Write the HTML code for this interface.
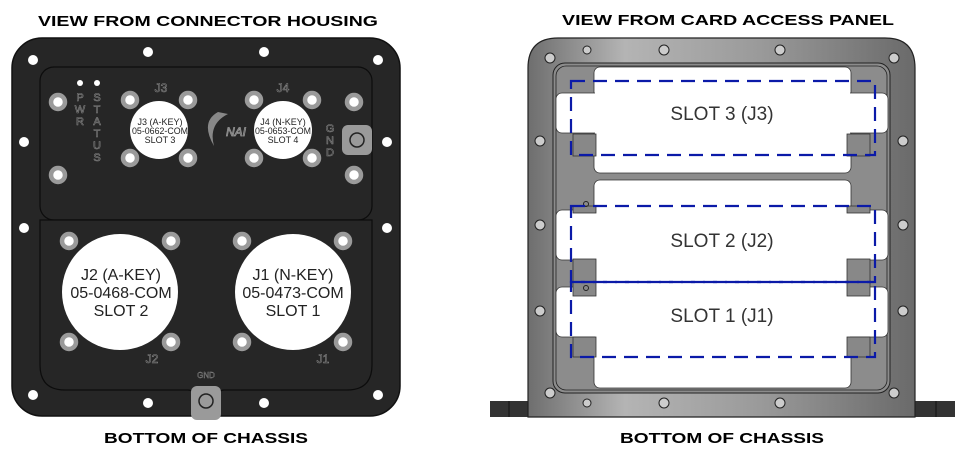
<!DOCTYPE html>
<html><head><meta charset="utf-8"><style>
html,body{margin:0;padding:0;background:#fff;}
svg{display:block;font-family:"Liberation Sans",Arial,sans-serif;}
</style></head><body>
<svg width="967" height="455" viewBox="0 0 967 455" xmlns="http://www.w3.org/2000/svg">
<defs>
<linearGradient id="g" x1="0" x2="1" y1="0" y2="0">
<stop offset="0" stop-color="#6e6e6e"/><stop offset="0.25" stop-color="#b4b4b4"/><stop offset="0.6" stop-color="#9a9a9a"/><stop offset="1" stop-color="#6a6a6a"/>
</linearGradient>
</defs>
<text x="38" y="26" font-size="15" font-weight="bold" textLength="340" lengthAdjust="spacingAndGlyphs">VIEW FROM CONNECTOR HOUSING</text>
<text x="562" y="25" font-size="15" font-weight="bold" textLength="332" lengthAdjust="spacingAndGlyphs">VIEW FROM CARD ACCESS PANEL</text>
<text x="104" y="443" font-size="15" font-weight="bold" textLength="204" lengthAdjust="spacingAndGlyphs">BOTTOM OF CHASSIS</text>
<text x="620" y="443" font-size="15" font-weight="bold" textLength="204" lengthAdjust="spacingAndGlyphs">BOTTOM OF CHASSIS</text>

<rect x="12" y="38" width="388" height="378" rx="30" fill="#262626" stroke="#111" stroke-width="1.5"/>
<rect x="40" y="67" width="332" height="153" rx="14" fill="#262626" stroke="#0c0c0c" stroke-width="1.2"/>
<path d="M40 220 H372 V365 Q372 390 347 390 H224 Q220 390 218 394 H194 Q192 390 188 390 H65 Q40 390 40 365 Z" fill="#262626" stroke="#0c0c0c" stroke-width="1.2"/>
<g fill="#fff">
<circle cx="33" cy="60" r="5"/><circle cx="148" cy="52" r="5"/><circle cx="264" cy="52" r="5"/><circle cx="378" cy="60" r="5"/>
<circle cx="24" cy="142" r="5"/><circle cx="387" cy="142" r="5"/><circle cx="24" cy="228" r="5"/><circle cx="387" cy="228" r="5"/>
<circle cx="33" cy="395" r="5"/><circle cx="148" cy="403" r="5"/><circle cx="264" cy="403" r="5"/><circle cx="378" cy="395" r="5"/>
<circle cx="80" cy="83" r="3"/><circle cx="97" cy="83" r="3"/>
</g>
<g fill="#fff" stroke="#9a9a9a" stroke-width="4.5">
<circle cx="58" cy="102" r="7"/><circle cx="130" cy="100" r="7"/><circle cx="188" cy="100" r="7"/><circle cx="254" cy="100" r="7"/><circle cx="312" cy="100" r="7"/><circle cx="354" cy="102" r="7"/>
<circle cx="130" cy="158" r="7"/><circle cx="188" cy="158" r="7"/><circle cx="254" cy="158" r="7"/><circle cx="312" cy="158" r="7"/>
<circle cx="58" cy="175" r="7"/><circle cx="354" cy="175" r="7"/>
<circle cx="69" cy="241" r="7"/><circle cx="171" cy="241" r="7"/><circle cx="242" cy="241" r="7"/><circle cx="343" cy="241" r="7"/>
<circle cx="69" cy="342" r="7"/><circle cx="171" cy="342" r="7"/><circle cx="242" cy="342" r="7"/><circle cx="343" cy="342" r="7"/>
</g>
<circle cx="159" cy="130" r="29" fill="#fff"/>
<circle cx="283" cy="130" r="29" fill="#fff"/>
<circle cx="120" cy="292" r="58" fill="#fff"/>
<circle cx="293" cy="292" r="58" fill="#fff"/>
<g font-size="9" text-anchor="middle" fill="#222">
<text x="160" y="125">J3 (A-KEY)</text><text x="160" y="134" textLength="56" lengthAdjust="spacingAndGlyphs">05-0662-COM</text><text x="160" y="143">SLOT 3</text>
<text x="283" y="125">J4 (N-KEY)</text><text x="283" y="134" textLength="56" lengthAdjust="spacingAndGlyphs">05-0653-COM</text><text x="283" y="143">SLOT 4</text>
</g>
<g font-size="16" text-anchor="middle" fill="#222">
<text x="121" y="280">J2 (A-KEY)</text><text x="121" y="298">05-0468-COM</text><text x="121" y="316">SLOT 2</text>
<text x="293" y="280">J1 (N-KEY)</text><text x="293" y="298">05-0473-COM</text><text x="293" y="316">SLOT 1</text>
</g>
<g font-size="12" text-anchor="middle" fill="#0d0d0d" stroke="#888" stroke-width="0.6">
<text x="161" y="92">J3</text><text x="283" y="92">J4</text>
<text x="152" y="363">J2</text><text x="323" y="363">J1</text>
</g>
<g font-size="11" text-anchor="middle" fill="#0d0d0d" stroke="#888" stroke-width="0.6">
<text x="80" y="101">P</text><text x="80" y="113">W</text><text x="80" y="125">R</text>
<text x="97" y="101">S</text><text x="97" y="113">T</text><text x="97" y="125">A</text><text x="97" y="137">T</text><text x="97" y="149">U</text><text x="97" y="161">S</text>
<text x="330" y="132">G</text><text x="330" y="144">N</text><text x="330" y="156">D</text>
</g>
<text x="206" y="378" font-size="8" text-anchor="middle" fill="#222" stroke="#888" stroke-width="0.4">GND</text>
<rect x="342" y="125" width="30" height="30" rx="6" fill="#9a9a9a"/>
<circle cx="357" cy="140" r="7" fill="none" stroke="#222" stroke-width="1.5"/>
<rect x="191" y="386" width="30" height="34" rx="6" fill="#9a9a9a"/>
<circle cx="206" cy="401" r="7" fill="none" stroke="#222" stroke-width="1.5"/>
<path d="M218 112 Q200 122 214 146 Q208 124 228 114 Z" fill="#888"/>
<text x="226" y="136" font-size="12" font-style="italic" fill="#262626" stroke="#999" stroke-width="0.8">NAI</text>

<rect x="490" y="401" width="40" height="16" fill="#333"/><rect x="913" y="401" width="42" height="16" fill="#333"/>
<line x1="509" y1="401" x2="509" y2="417" stroke="#111"/><line x1="936" y1="401" x2="936" y2="417" stroke="#111"/>
<path d="M528 417 V68 Q528 38 558 38 H885 Q915 38 915 68 V417 Z" fill="url(#g)" stroke="#222" stroke-width="1.2"/>
<rect x="553" y="63" width="337" height="330" rx="12" fill="#8c8c8c" stroke="#222" stroke-width="1"/>
<rect x="556" y="66" width="331" height="324" rx="10" fill="none" stroke="#222" stroke-width="0.8"/>
<g fill="#fff" stroke="#333" stroke-width="0.8">
<rect x="594" y="67" width="257" height="106" rx="6"/>
<rect x="556" y="93" width="332" height="40" rx="6"/>
<rect x="594" y="180" width="257" height="208" rx="6"/>
<rect x="556" y="210" width="332" height="50" rx="6"/>
<rect x="556" y="287" width="332" height="50" rx="6"/>
</g>
<g fill="#fff" stroke="none">
<rect x="595" y="90" width="255" height="46"/><rect x="595" y="205" width="255" height="58"/><rect x="595" y="284" width="255" height="56"/>
</g>
<g fill="#888" stroke="#333" stroke-width="0.8">
<rect x="573" y="134" width="23" height="22"/><rect x="847" y="134" width="23" height="22"/>
<rect x="573" y="206" width="23" height="7"/><rect x="847" y="206" width="23" height="7"/>
<rect x="573" y="259" width="23" height="37"/><rect x="847" y="259" width="23" height="37"/>
<rect x="573" y="337" width="23" height="20"/><rect x="847" y="337" width="23" height="20"/>
</g>
<circle cx="586" cy="204" r="2.5" fill="none" stroke="#222"/><circle cx="586" cy="288" r="2.5" fill="none" stroke="#222"/>
<g fill="none" stroke="#0b1aa8" stroke-width="2.2" stroke-dasharray="14 8">
<rect x="571" y="81" width="304" height="74"/>
<rect x="571" y="206" width="304" height="76"/>
<rect x="571" y="282" width="304" height="75"/>
</g>
<g font-size="19" text-anchor="middle" fill="#333">
<text x="722" y="120">SLOT 3 (J3)</text><text x="722" y="247">SLOT 2 (J2)</text><text x="722" y="322">SLOT 1 (J1)</text>
</g>
<g fill="#ccc" stroke="#222" stroke-width="1">
<circle cx="587" cy="50" r="4"/><circle cx="664" cy="50" r="5"/><circle cx="780" cy="50" r="5"/>
<circle cx="550" cy="58" r="5"/><circle cx="894" cy="58" r="5"/>
<circle cx="540" cy="141" r="5"/><circle cx="903" cy="141" r="5"/><circle cx="540" cy="225" r="5"/><circle cx="903" cy="225" r="5"/>
<circle cx="540" cy="311" r="5"/><circle cx="903" cy="311" r="5"/>
<circle cx="550" cy="393" r="5"/><circle cx="894" cy="393" r="5"/>
<circle cx="587" cy="403" r="4"/><circle cx="664" cy="403" r="5"/><circle cx="780" cy="403" r="5"/>
</g>
</svg>
</body></html>
